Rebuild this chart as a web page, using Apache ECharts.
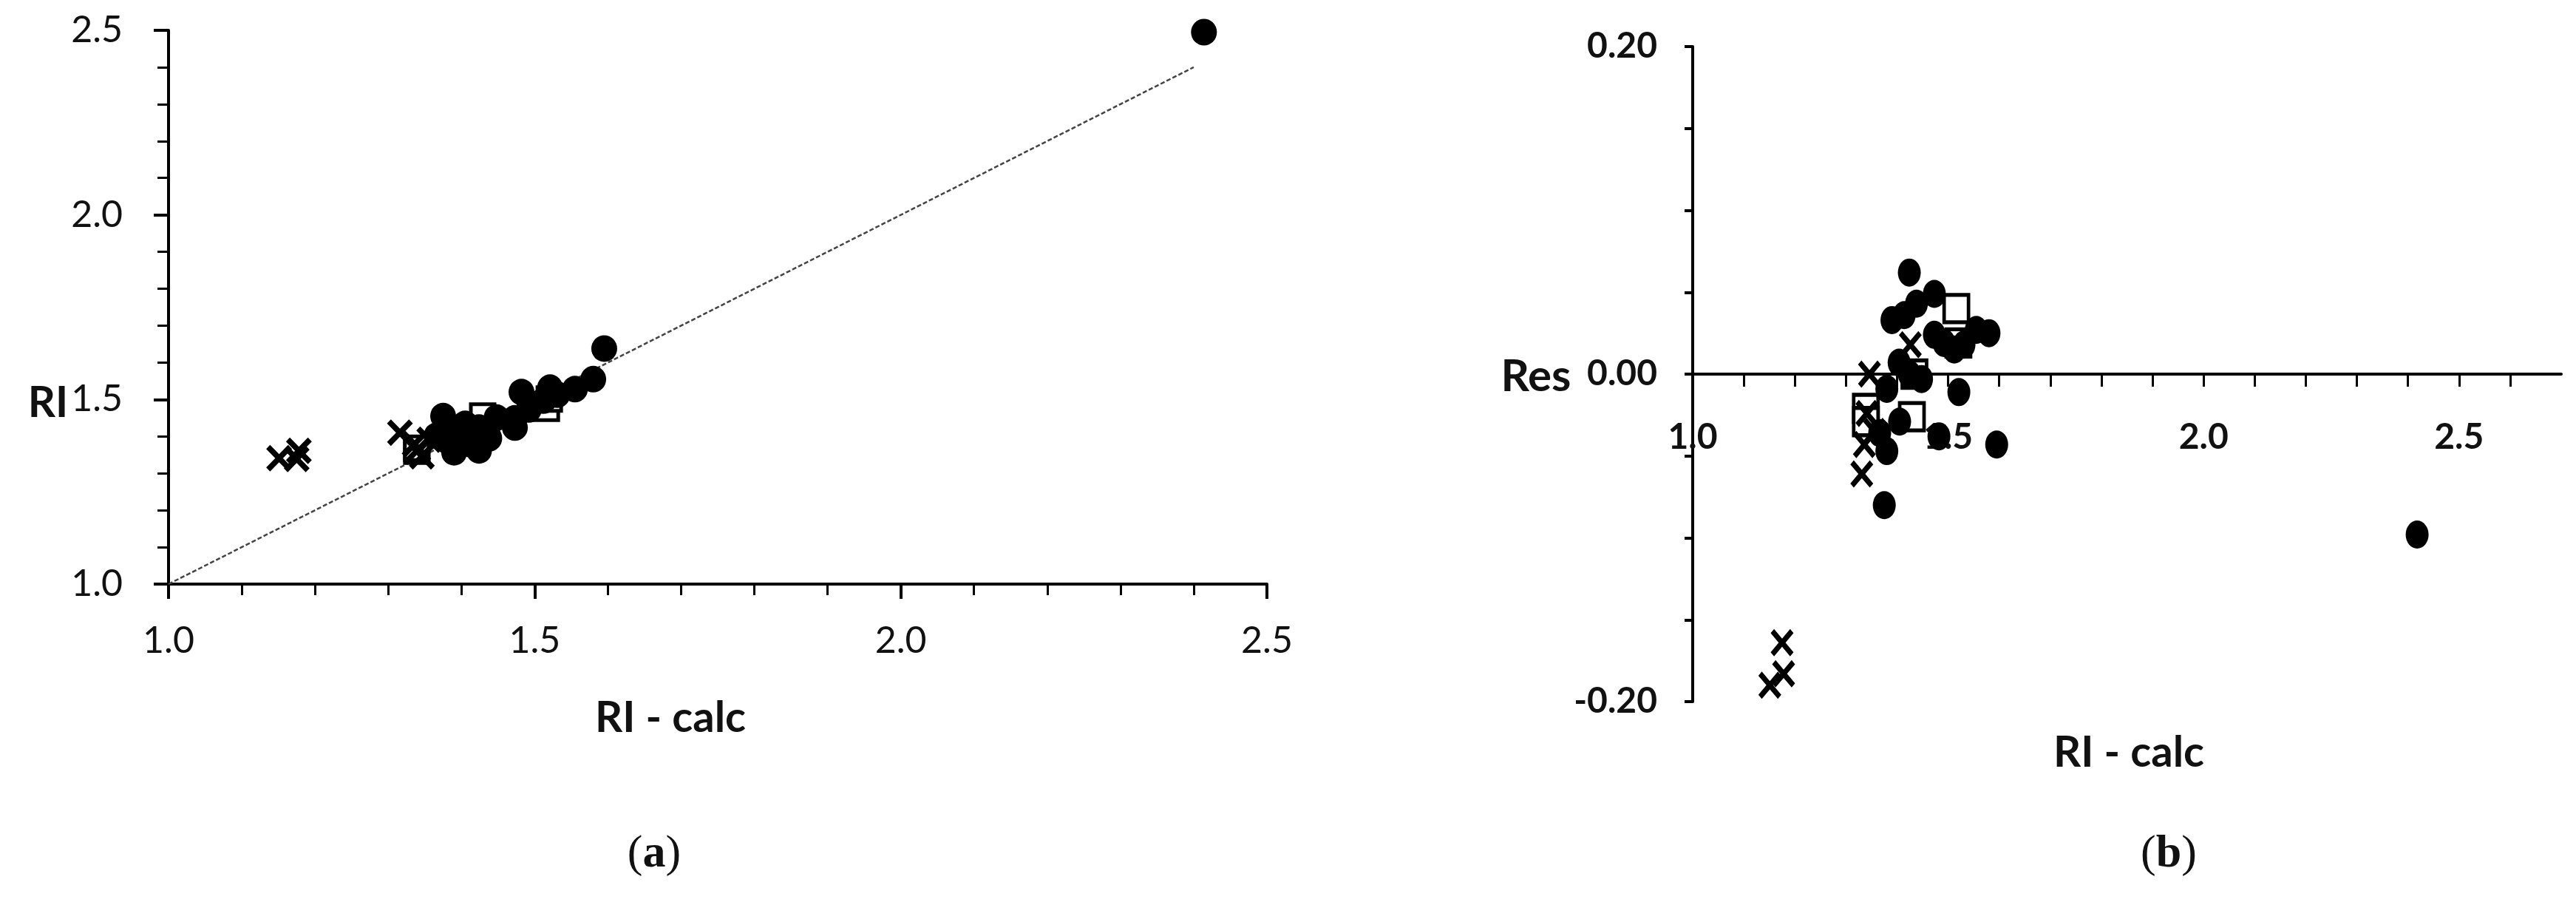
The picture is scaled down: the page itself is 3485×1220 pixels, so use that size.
<!DOCTYPE html>
<html>
<head>
<meta charset="utf-8">
<script src="https://cdn.jsdelivr.net/npm/echarts@6/dist/echarts.min.js"></script>
<style>
  html, body { margin: 0; padding: 0; background: #fff; }
  #main { width: 3485px; height: 1220px; }
</style>
</head>
<body>
<div id="main"></div>
<script>
// panel (a): RI against RI - calc
var circlesA = [[1.424,1.362],[1.473,1.424],[1.438,1.395],[1.390,1.357],[1.414,1.378],[1.580,1.555],
  [1.555,1.528],[1.512,1.497],[1.531,1.513],[1.492,1.473],[1.473,1.449],[1.404,1.397],[1.448,1.451],
  [1.424,1.424],[1.521,1.532],[1.380,1.389],[1.405,1.434],[1.380,1.427],[1.482,1.520],[1.595,1.638],
  [1.375,1.455],[1.366,1.402],[2.414,2.495]];
var squaresA = [[1.516,1.476],[1.520,1.501],[1.434,1.434],[1.429,1.455],[1.339,1.360],[1.339,1.368]];
var crossesA = [[1.175,1.339],[1.178,1.361],[1.151,1.341],[1.426,1.408],[1.346,1.346],[1.341,1.365],
  [1.356,1.391],[1.336,1.379],[1.316,1.410]];
var lineA = [[1.0,1.0],[2.4,2.4]];

// panel (b): residuals against RI - calc
var circlesB = [[1.424,0.062],[1.473,0.049],[1.438,0.043],[1.390,0.033],[1.414,0.036],[1.580,0.025],
  [1.555,0.027],[1.512,0.015],[1.531,0.018],[1.492,0.019],[1.473,0.024],[1.404,0.007],[1.448,-0.003],
  [1.424,0.000],[1.521,-0.011],[1.380,-0.009],[1.405,-0.029],[1.380,-0.047],[1.482,-0.038],[1.595,-0.043],
  [1.375,-0.080],[1.366,-0.036],[2.418,-0.098]];
var squaresB = [[1.516,0.040],[1.520,0.019],[1.434,0.000],[1.429,-0.026],[1.339,-0.021],[1.339,-0.029]];
var crossesB = [[1.175,-0.164],[1.178,-0.183],[1.151,-0.190],[1.426,0.018],[1.346,0.000],[1.341,-0.024],
  [1.356,-0.035],[1.336,-0.043],[1.331,-0.061]];

var crossPath = 'path://M0,1.5L1.5,0L5,3.5L8.5,0L10,1.5L6.5,5L10,8.5L8.5,10L5,6.5L1.5,10L0,8.5L3.5,5Z';

var myChart = echarts.init(document.getElementById('main'));

var axisLine = { lineStyle: { color: '#000', width: 4 } };

// panel (b) grid: 0 sits 443px above the bottom edge, the x axis is moved up to it
var gridB = { left: 2290, top: 63, width: 1175, height: 886 };

option = {
    backgroundColor: '#fff',
    animation: false,
    grid: [
        { left: 228, top: 41, width: 1486, height: 749 },
        gridB
    ],
    xAxis: [{
        gridIndex: 0, type: 'value', min: 1, max: 2.5, interval: 0.5,
        axisLine: axisLine,
        axisTick: { length: 20, lineStyle: { width: 4, color: '#000' } },
        minorTick: { show: true, splitNumber: 5, length: 15, lineStyle: { width: 3, color: '#000' } },
        splitLine: { show: false },
        axisLabel: { margin: 52, fontSize: 50, fontFamily: 'Lato', color: '#111',
            formatter: function (v) { return v.toFixed(1); } }
    }, {
        gridIndex: 1, type: 'value', min: 1, max: 2.7, interval: 0.1,
        offset: -443,
        axisLine: { onZero: false, lineStyle: { color: '#000', width: 4 } },
        axisTick: { length: 17, lineStyle: { width: 3, color: '#000' } },
        splitLine: { show: false },
        axisLabel: { margin: 62, fontSize: 48, fontFamily: 'Lato', fontWeight: 'bold', color: '#111',
            showMaxLabel: false,
            formatter: function (v) { return Math.round(v * 10) % 5 === 0 ? v.toFixed(1) : ''; } }
    }],
    yAxis: [{
        gridIndex: 0, type: 'value', min: 1, max: 2.5, interval: 0.5,
        axisLine: axisLine,
        axisTick: { length: 20, lineStyle: { width: 4, color: '#000' } },
        minorTick: { show: true, splitNumber: 5, length: 15, lineStyle: { width: 3, color: '#000' } },
        splitLine: { show: false },
        axisLabel: { margin: 62, fontSize: 50, fontFamily: 'Lato', color: '#111',
            formatter: function (v) { return v.toFixed(1); } }
    }, {
        gridIndex: 1, type: 'value', min: -0.2, max: 0.2, interval: 0.05,
        axisLine: { onZero: false, lineStyle: { color: '#000', width: 4 } },
        axisTick: { length: 11, lineStyle: { width: 4, color: '#000' } },
        splitLine: { show: false },
        axisLabel: { margin: 48, fontSize: 48, fontFamily: 'Lato', fontWeight: 'bold', color: '#111',
            formatter: function (v) { return Math.round(v * 100) % 20 === 0 ? v.toFixed(2) : ''; } }
    }],
    series: [{
        type: 'line', xAxisIndex: 0, yAxisIndex: 0, data: lineA,
        symbol: 'none', z: 1,
        lineStyle: { color: '#444', width: 2.5, type: [6, 3] }
    }, {
        type: 'scatter', xAxisIndex: 0, yAxisIndex: 0, data: squaresA,
        symbol: 'rect', symbolSize: 32, z: 2,
        itemStyle: { color: '#fff', borderColor: '#000', borderWidth: 5, opacity: 1 }
    }, {
        type: 'scatter', xAxisIndex: 0, yAxisIndex: 0, data: circlesA,
        symbol: 'circle', symbolSize: [35, 36], z: 3,
        itemStyle: { color: '#000', opacity: 1 }
    }, {
        type: 'scatter', xAxisIndex: 0, yAxisIndex: 0, data: crossesA,
        symbol: crossPath, symbolSize: [35, 36], symbolKeepAspect: false, z: 4,
        itemStyle: { color: '#000', opacity: 1 }
    }, {
        type: 'scatter', xAxisIndex: 1, yAxisIndex: 1, data: squaresB,
        symbol: 'rect', symbolSize: [33, 37], z: 2,
        itemStyle: { color: '#fff', borderColor: '#000', borderWidth: 5, opacity: 1 }
    }, {
        type: 'scatter', xAxisIndex: 1, yAxisIndex: 1, data: circlesB,
        symbol: 'circle', symbolSize: [31, 38], z: 3,
        itemStyle: { color: '#000', opacity: 1 }
    }, {
        type: 'scatter', xAxisIndex: 1, yAxisIndex: 1, data: crossesB,
        symbol: crossPath, symbolSize: [31, 37], symbolKeepAspect: false, z: 4,
        itemStyle: { color: '#000', opacity: 1 }
    }],
    graphic: [
        { type: 'text', x: 65, y: 545, style: { text: 'RI', align: 'center', verticalAlign: 'middle',
            font: 'bold 58px Lato', fill: '#111' } },
        { type: 'text', x: 907, y: 971, style: { text: 'RI - calc', align: 'center', verticalAlign: 'middle',
            font: 'bold 58px Lato', fill: '#111' } },
        { type: 'text', x: 2078, y: 510, style: { text: 'Res', align: 'center', verticalAlign: 'middle',
            font: 'bold 60px Lato', fill: '#111' } },
        { type: 'text', x: 2880, y: 1018, style: { text: 'RI - calc', align: 'center', verticalAlign: 'middle',
            font: 'bold 58px Lato', fill: '#111' } },
        { type: 'text', x: 885, y: 1156, style: { text: '{p|(}{b|a}{p|)}', align: 'center', verticalAlign: 'middle',
            rich: { p: { fontFamily: 'Liberation Serif', fontSize: 62, fill: '#111' },
                    b: { fontFamily: 'Liberation Serif', fontSize: 62, fontWeight: 'bold', fill: '#111' } } } },
        { type: 'text', x: 2934, y: 1156, style: { text: '{p|(}{b|b}{p|)}', align: 'center', verticalAlign: 'middle',
            rich: { p: { fontFamily: 'Liberation Serif', fontSize: 62, fill: '#111' },
                    b: { fontFamily: 'Liberation Serif', fontSize: 62, fontWeight: 'bold', fill: '#111' } } } }
    ]
};

myChart.setOption(option);
</script>
</body>
</html>
